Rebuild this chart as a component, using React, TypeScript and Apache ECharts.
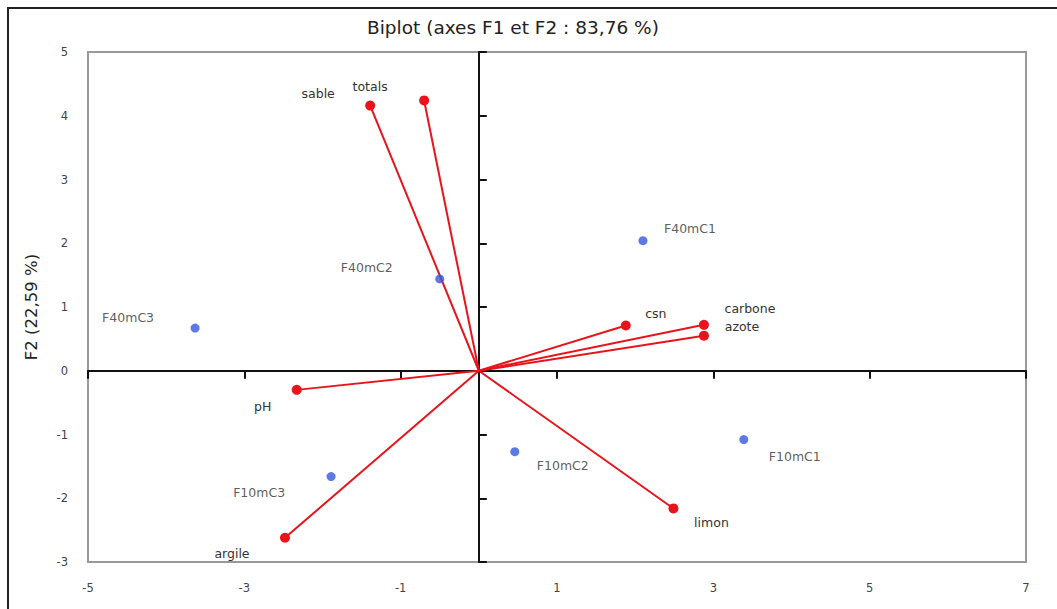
import React, { useEffect, useRef } from "react";
import * as echarts from "echarts";

// Variables (red vectors)
const varNames = ["sable", "totals", "csn", "carbone", "azote", "pH", "argile", "limon"];
const varF1 = [-1.39, -0.70, 1.88, 2.88, 2.88, -2.33, -2.48, 2.49];
const varF2 = [4.16, 4.24, 0.71, 0.72, 0.55, -0.30, -2.62, -2.16];

// Observations (blue points)
const obsNames = ["F40mC1", "F40mC2", "F40mC3", "F10mC1", "F10mC2", "F10mC3"];
const obsF1 = [2.10, -0.50, -3.63, 3.39, 0.46, -1.89];
const obsF2 = [2.04, 1.44, 0.67, -1.08, -1.27, -1.66];

// Label placement (pixel offsets from the mark)
const varLabelOffsets = [[-52, -12], [-54, -14], [30, -12], [46, -16], [38, -9], [-34, 17], [-53, 16], [38, 14]];
const obsLabelOffsets = [[47, -12], [-73, -11], [-67, -11], [51, 17], [48, 14], [-72, 16]];

const xTicks = { min: -5, max: 7, interval: 2 };
const yTicks = { min: -3, max: 5, interval: 1 };

const FONT = "'DejaVu Sans', 'Liberation Sans', sans-serif";

export default function App() {
  const ref = useRef<HTMLDivElement>(null);
  useEffect(() => {
    if (!ref.current) return;
    const chart = echarts.init(ref.current, undefined, { renderer: "svg" });
    const red = "#e8141c";
    const blue = "#3558e0";
    const labelStyle = { color: "#333", fontSize: 12.5, fontFamily: FONT };

    const varSeries = varNames.map((name, i) => ({
      type: "line",
      name,
      data: [
        { value: [0, 0], symbolSize: 0, label: { show: false } },
        {
          value: [varF1[i], varF2[i]],
          label: {
            show: true,
            position: "inside",
            offset: varLabelOffsets[i],
            formatter: name,
            ...labelStyle,
          },
        },
      ],
      symbol: "circle",
      symbolSize: 10,
      lineStyle: { color: red, width: 2 },
      itemStyle: { color: red },
      xAxisIndex: 0,
      yAxisIndex: 0,
      z: 3,
    }));

    const obsSeries = {
      type: "scatter",
      data: obsNames.map((n, i) => ({
        value: [obsF1[i], obsF2[i]],
        label: {
          show: true,
          position: "inside",
          offset: obsLabelOffsets[i],
          formatter: n,
          ...labelStyle,
        },
      })),
      symbolSize: 9,
      itemStyle: { color: blue },
      xAxisIndex: 0,
      yAxisIndex: 0,
      z: 4,
    };

    const axisLabelStyle = { color: "#444", fontSize: 11.5, fontFamily: FONT };

    chart.setOption({
      animation: false,
      backgroundColor: "#fff",
      title: {
        text: "Biplot (axes F1 et F2 : 83,76 %)",
        left: 362,
        top: 13,
        textStyle: { fontSize: 18.5, fontWeight: "normal", color: "#222", fontFamily: FONT },
      },
      grid: {
        left: 88,
        right: 31,
        top: 52,
        bottom: 47,
        show: true,
        borderColor: "#999",
        borderWidth: 2,
        backgroundColor: "#fff",
      },
      graphic: [
        {
          type: "rect",
          shape: { x: 8, y: 8, width: 1200, height: 800 },
          style: { fill: "none", stroke: "#222", lineWidth: 2 },
          silent: true,
        },
      ],
      xAxis: [
        {
          type: "value",
          ...xTicks,
          position: "bottom",
          axisLine: { show: false, onZero: false },
          axisTick: { show: false },
          axisLabel: { ...axisLabelStyle, margin: 20 },
          splitLine: { show: false },
        },
        {
          type: "value",
          ...xTicks,
          position: "bottom",
          axisLine: { show: true, onZero: true, onZeroAxisIndex: 0, lineStyle: { color: "#111", width: 2 } },
          axisTick: { show: true, length: 8, lineStyle: { color: "#111", width: 2 } },
          axisLabel: { show: false },
          splitLine: { show: false },
        },
      ],
      yAxis: [
        {
          type: "value",
          ...yTicks,
          position: "left",
          name: "F2 (22,59 %)",
          nameLocation: "middle",
          nameGap: 48,
          nameTextStyle: { fontSize: 16.5, color: "#222", fontFamily: FONT },
          axisLine: { show: false, onZero: false },
          axisTick: { show: false },
          axisLabel: { ...axisLabelStyle, margin: 20 },
          splitLine: { show: false },
        },
        {
          type: "value",
          ...yTicks,
          position: "left",
          axisLine: { show: true, onZero: true, onZeroAxisIndex: 0, lineStyle: { color: "#111", width: 2 } },
          axisTick: { show: true, inside: true, length: 8, lineStyle: { color: "#111", width: 2 } },
          axisLabel: { show: false },
          splitLine: { show: false },
        },
      ],
      series: [...varSeries, obsSeries],
    });
    return () => chart.dispose();
  }, []);
  return (
    <div
      ref={ref}
      style={{ position: "fixed", left: 0, top: 0, width: 1057, height: 609, background: "#fff" }}
    />
  );
}
